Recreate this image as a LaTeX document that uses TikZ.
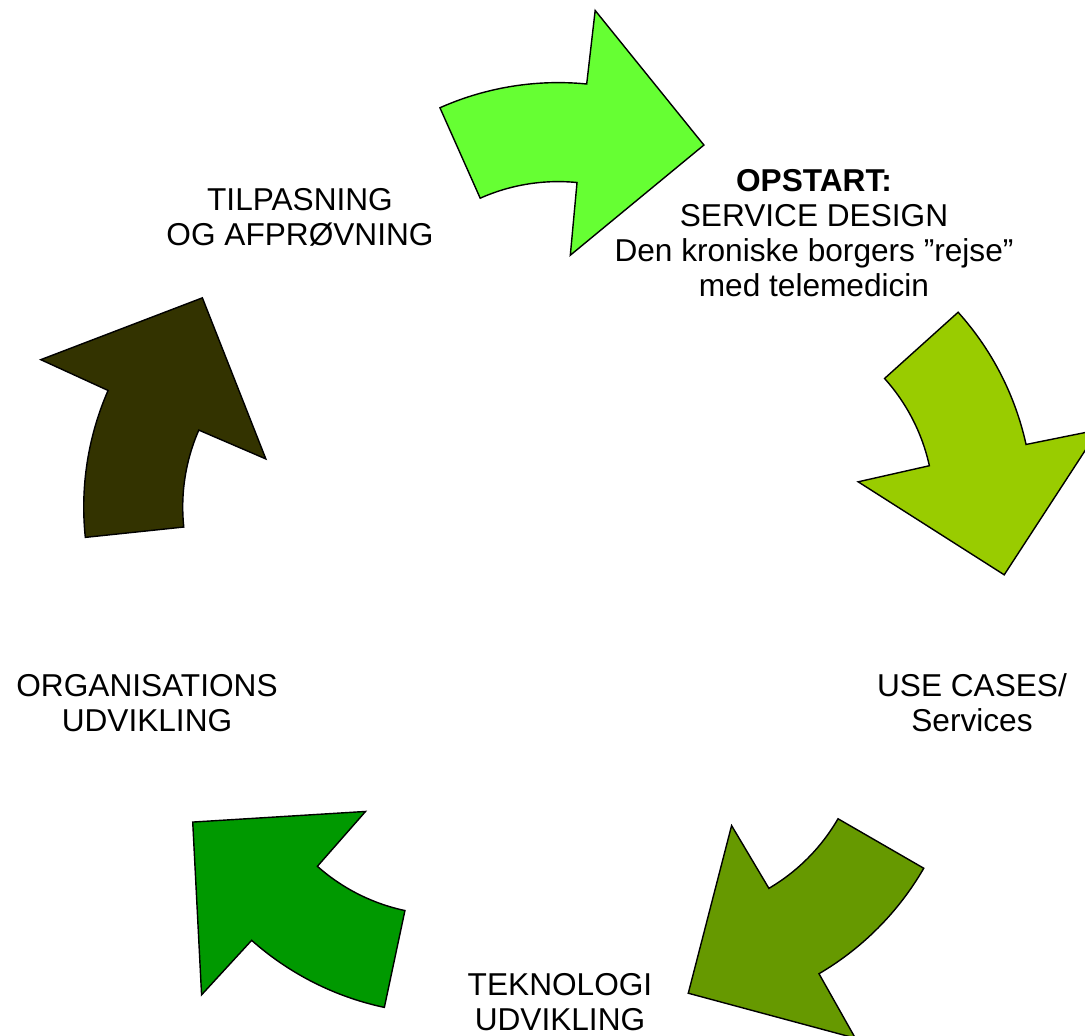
\documentclass[tikz,border=0pt]{standalone}
\usepackage{fontspec}
\setmainfont{Liberation Sans}
\definecolor{grA}{HTML}{66FF33}
\definecolor{grB}{HTML}{99CC00}
\definecolor{grC}{HTML}{669900}
\definecolor{grD}{HTML}{009900}
\definecolor{grE}{HTML}{333300}
\tikzset{
	cyclearrow/.style={draw=black, line width=0.8pt, line join=miter},
	steplabel/.style={align=center, inner sep=0pt, font=\fontsize{18}{20}\selectfont}
}
\begin{document}
\begin{tikzpicture}[x=0.02cm,y=0.02cm]
\useasboundingbox (-558.3,-468.4) rectangle (526.7,566.6);
\foreach \r/\c in {0/grA,-72/grB,-144/grC,-216/grD,-288/grE} {
	\begin{scope}[rotate=\r, shift={(0,193)}]
	\filldraw[cyclearrow, fill=\c] (114:291) arc[start angle=114, end angle=84.4, radius=291]
		-- (84.2:365) -- (57.5:271) -- (84.2:119) -- (84.4:192)
		arc[start angle=84.4, end angle=114, radius=192] -- cycle;
	\end{scope}
}

\node[steplabel] (opstart) at (255.7,333.6) {\textbf{OPSTART:}\\SERVICE DESIGN\\Den kroniske borgers ”rejse”\\med telemedicin};
\node[steplabel] (usecases) at (413.7,-136.4) {USE CASES/\\Services};
\node[steplabel] (teknologi) at (1.7,-435.4) {TEKNOLOGI\\UDVIKLING};
\node[steplabel] (organisation) at (-411.3,-136.4) {ORGANISATIONS\\UDVIKLING};
\node[steplabel] (tilpasning) at (-258.3,349) {TILPASNING\\OG AFPRØVNING};
\end{tikzpicture}
\end{document}
